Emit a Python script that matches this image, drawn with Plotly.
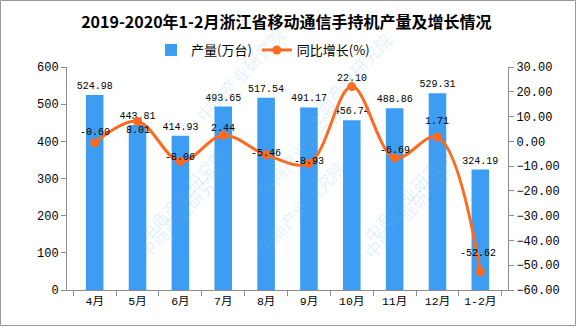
import plotly.graph_objects as go

categories = ["4月", "5月", "6月", "7月", "8月", "9月", "10月", "11月", "12月", "1-2月"]
output_values = [524.98, 443.81, 414.93, 493.65, 517.54, 491.17, 456.74, 488.86, 529.31, 324.19]
growth_values = [-0.60, 8.01, -8.06, 2.44, -5.46, -8.93, 22.10, -6.69, 1.71, -52.62]

title_text = "2019-2020年1-2月浙江省移动通信手持机产量及增长情况"
bar_name = "产量(万台)"
line_name = "同比增长(%)"

# label offsets (pixels) for line labels
label_yshift = [10, -9, 4, 7, 1, 2, 8, 7, 16, 18]
label_xshift = [0, 0, 0, 0, 0, 0, 0, 0, 0, -2]

BAR_COLOR = "#3d9df2"
LINE_COLOR = "#ff6a1e"
AXIS_COLOR = "#8c8c8c"
MONO = "Liberation Mono, Noto Sans CJK SC"

W, H = 576, 327
ML, MR, MT, MB = 67, 68, 67, 37
PW, PH = W - ML - MR, H - MT - MB

fig = go.Figure()
fig.add_trace(go.Bar(
    x=categories, y=output_values, name=bar_name,
    marker=dict(color=BAR_COLOR, line=dict(width=0)),
    width=0.41,
    text=[f"{v:.2f}" for v in output_values],
    textposition="outside", cliponaxis=False, constraintext="none",
    textfont=dict(family=MONO, size=10, color="#000"),
))
fig.add_trace(go.Scatter(
    x=categories, y=growth_values, name=line_name, yaxis="y2",
    mode="lines+markers",
    line=dict(color=LINE_COLOR, width=3, shape="spline", smoothing=1.0),
    marker=dict(color=LINE_COLOR, size=9),
    cliponaxis=False,
))

annotations = []
for c, v, ys, xs in zip(categories, growth_values, label_yshift, label_xshift):
    annotations.append(dict(
        x=c, y=v, xref="x", yref="y2", text=f"{v:.2f}", showarrow=False,
        yshift=ys, xshift=xs, font=dict(family=MONO, size=10, color="#000"),
    ))

# faint watermarks
wm_pos = [(130, 140), (130, 266), (300, 150), (300, 262), (460, 140), (460, 266), (240, 20), (400, 25)]
for px, py in wm_pos:
    annotations.append(dict(
        x=(px - ML) / PW, y=1 - (py - MT) / PH, xref="paper", yref="paper",
        text="中商产业研究院", showarrow=False, textangle=-47,
        font=dict(family="Noto Sans CJK SC", size=17, color="rgba(120,180,225,0.2)"),
    ))

fig.update_layout(
    width=W, height=H,
    margin=dict(l=ML, r=MR, t=MT, b=MB),
    paper_bgcolor="white", plot_bgcolor="white",
    title=dict(text="<b>" + title_text + "</b>", x=0.497, xanchor="center", y=1 - 22 / H, yanchor="middle",
               font=dict(family="Noto Sans CJK SC", size=16, color="#000")),
    showlegend=True,
    legend=dict(orientation="h", x=(263 - ML) / PW, xanchor="center", y=1 + (MT - 50) / PH, yanchor="middle",
                font=dict(family="Noto Sans CJK SC", size=13, color="#000"), bgcolor="rgba(0,0,0,0)",
                itemwidth=30, tracegroupgap=0),
    bargap=0.59,
    xaxis=dict(
        showline=True, linecolor=AXIS_COLOR, linewidth=1,
        ticks="outside", ticklen=5, tickcolor=AXIS_COLOR, tickson="boundaries",
        tickfont=dict(family=MONO, size=11.5, color="#000"),
        showgrid=False, zeroline=False,
    ),
    yaxis=dict(
        range=[0, 600], dtick=100, showline=True, linecolor=AXIS_COLOR, linewidth=1,
        ticks="outside", ticklen=5, tickcolor=AXIS_COLOR,
        tickfont=dict(family=MONO, size=12, color="#000"),
        showgrid=False, zeroline=False,
    ),
    yaxis2=dict(
        range=[-60, 30], dtick=10, overlaying="y", side="right", tickformat=".2f",
        showline=True, linecolor=AXIS_COLOR, linewidth=1,
        ticks="outside", ticklen=5, tickcolor=AXIS_COLOR,
        tickfont=dict(family=MONO, size=12, color="#000"),
        showgrid=False, zeroline=False,
    ),
    annotations=annotations,
    shapes=[dict(type="rect", xref="paper", yref="paper",
                 x0=(0.5 - ML) / PW, x1=(W - 0.5 - ML) / PW,
                 y0=1 - (H - 1.5 - MT) / PH, y1=1 - (0.5 - MT) / PH,
                 line=dict(color="#9a9a9a", width=1), layer="below")],
)

fig.write_html("out.html")
